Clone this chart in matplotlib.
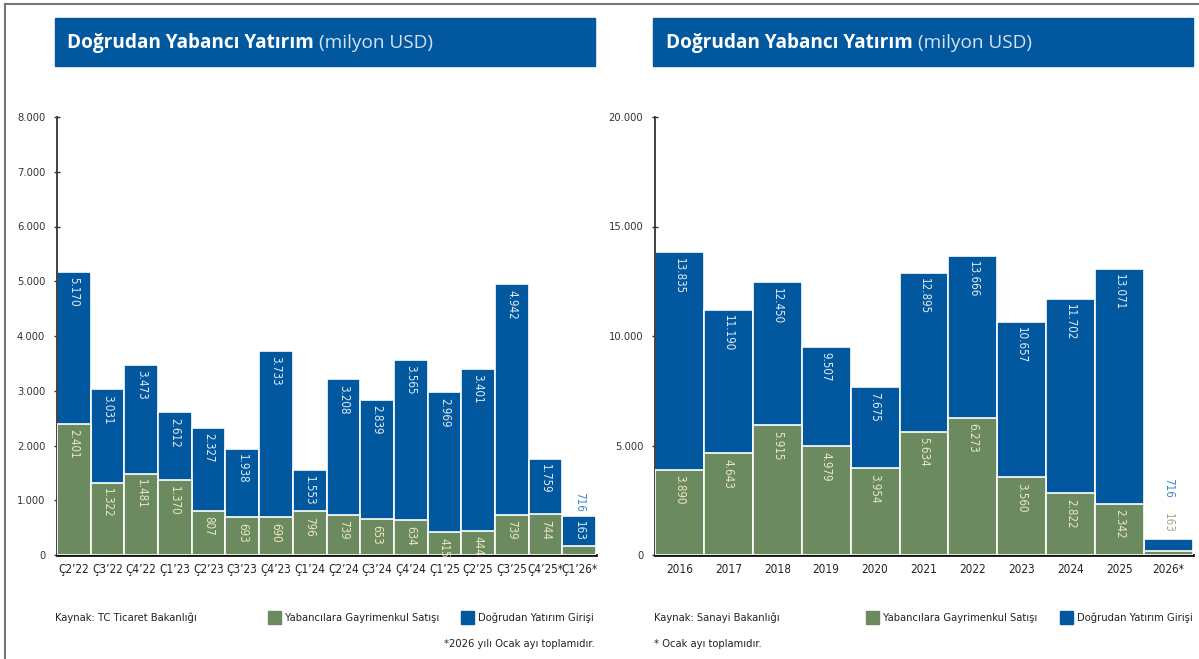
import matplotlib
matplotlib.use("Agg")
import matplotlib.pyplot as plt
from matplotlib.patches import Rectangle
from matplotlib.lines import Line2D

# quarterly data (left panel)
quarters = ["Ç2’22", "Ç3’22", "Ç4’22", "Ç1’23", "Ç2’23", "Ç3’23", "Ç4’23", "Ç1’24",
            "Ç2’24", "Ç3’24", "Ç4’24", "Ç1’25", "Ç2’25", "Ç3’25", "Ç4’25*", "Ç1’26*"]
fdi_q = [5170, 3031, 3473, 2612, 2327, 1938, 3733, 1553,
         3208, 2839, 3565, 2969, 3401, 4942, 1759, 716]
realestate_q = [2401, 1322, 1481, 1370, 807, 693, 690, 796,
                739, 653, 634, 415, 444, 739, 744, 163]

# yearly data (right panel)
years = ["2016", "2017", "2018", "2019", "2020", "2021", "2022",
         "2023", "2024", "2025", "2026*"]
fdi_y = [13835, 11190, 12450, 9507, 7675, 12895, 13666, 10657, 11702, 13071, 716]
realestate_y = [3890, 4643, 5915, 4979, 3954, 5634, 6273, 3560, 2822, 2342, 163]

BLUE = "#01589F"
GREEN = "#6C8A5F"
BLUE_TXT = "#E2ECF7"
GREEN_TXT = "#ECE8BE"
LIGHT_BLUE = "#3F86CC"
W, H = 1199, 659

small = dict(family=["DejaVu Sans"], fontstretch="condensed")
title_font = ["Open Sans", "DejaVu Sans"]


def fmt(v):
    return f"{v:,}".replace(",", ".")


def label(ax, text, xy, dy, va, color):
    ax.annotate(text, xy, xytext=(0, dy), textcoords="offset points",
                rotation=270, ha="center", va=va, fontsize=8.3,
                color=color, zorder=5, **small)


def draw_panel(ax, cats, fdi, re, ymax, ystep, last_mode):
    x = list(range(len(cats)))
    ax.bar(x, fdi, width=1.0, color=BLUE, edgecolor="white", linewidth=1.2, zorder=2)
    ax.bar(x, re, width=1.0, color=GREEN, edgecolor="white", linewidth=1.2, zorder=3)
    n = len(cats)
    for i in range(n):
        if i == n - 1:
            if last_mode == "left":
                label(ax, fmt(fdi[i]), (i, fdi[i]), 3, "bottom", LIGHT_BLUE)
                label(ax, fmt(re[i]), (i, fdi[i]), -4, "top", BLUE_TXT)
            else:
                label(ax, fmt(re[i]), (i, fdi[i]), 5, "bottom", "#9DB07E")
                label(ax, fmt(fdi[i]), (i, fdi[i]), 30, "bottom", LIGHT_BLUE)
            continue
        label(ax, fmt(fdi[i]), (i, fdi[i]), -4, "top", BLUE_TXT)
        label(ax, fmt(re[i]), (i, re[i]), -4, "top", GREEN_TXT)

    ax.set_xlim(-0.5, n - 0.5)
    ax.set_ylim(0, ymax)
    ticks = list(range(0, ymax + 1, ystep))
    ax.set_yticks(ticks)
    ax.set_yticklabels([fmt(t) for t in ticks], fontsize=8, color="#333333", **small)
    ax.set_xticks(x)
    ax.set_xticklabels(cats, fontsize=8.5, color="#222222", **small)
    ax.set_xticks([i + 0.5 for i in range(n - 1)], minor=True)
    ax.tick_params(axis="x", which="major", length=0, pad=6)
    ax.tick_params(axis="x", which="minor", direction="in", length=4, width=1.2, color="#222222")
    ax.tick_params(axis="y", direction="inout", length=5, width=1, color="#333333", pad=6)
    for s in ["top", "right"]:
        ax.spines[s].set_visible(False)
    ax.spines["left"].set_color("#333333")
    ax.spines["left"].set_linewidth(1.3)
    ax.spines["bottom"].set_color("#111111")
    ax.spines["bottom"].set_linewidth(2)
    ax.patch.set_alpha(0)


fig = plt.figure(figsize=(W / 100, H / 100), dpi=100)

ax1 = fig.add_axes([57 / W, 1 - 555 / H, (596 - 57) / W, (555 - 117) / H])
ax2 = fig.add_axes([655 / W, 1 - 555 / H, (1193 - 655) / W, (555 - 117) / H])
draw_panel(ax1, quarters, fdi_q, realestate_q, 8000, 1000, "left")
draw_panel(ax2, years, fdi_y, realestate_y, 20000, 5000, "right")

# frame lines
fig.add_artist(Line2D([5 / W, 5 / W], [0, 1 - 4 / H], color="#777777", lw=1.5))
fig.add_artist(Line2D([5 / W, 1], [1 - 4 / H, 1 - 4 / H], color="#777777", lw=1.5))

# header bands with titles
fig.canvas.draw()
renderer = fig.canvas.get_renderer()
for x0, x1, tx in [(55, 595, 67), (653, 1193, 666)]:
    fig.add_artist(Rectangle((x0 / W, 1 - 66 / H), (x1 - x0) / W, 48 / H,
                             transform=fig.transFigure, color=BLUE, zorder=0))
    t1 = fig.text(tx / W, 1 - 43 / H, "Doğrudan Yabancı Yatırım", color="white",
                  fontsize=13.7, fontweight="bold", family=title_font, va="center")
    ext = t1.get_window_extent(renderer)
    fig.text((ext.x1 + 5) / W, 1 - 43 / H, "(milyon USD)", color="#D6E2F0",
             fontsize=13.7, family=title_font, va="center")

# footers
foot = dict(fontsize=8, color="#222222", va="center", **small)
legend_pos = [
    (55, "Kaynak: TC Ticaret Bakanlığı", 268, 461, "*2026 yılı Ocak ayı toplamıdır.", 595, "right"),
    (654, "Kaynak: Sanayi Bakanlığı", 866, 1060, "* Ocak ayı toplamıdır.", 654, "left"),
]
for kx, src, gx, bx, note, nx, nha in legend_pos:
    fig.text(kx / W, 1 - 618 / H, src, **foot)
    fig.add_artist(Rectangle((gx / W, 1 - 624 / H), 13 / W, 13 / H,
                             transform=fig.transFigure, color=GREEN))
    fig.text((gx + 17) / W, 1 - 618 / H, "Yabancılara Gayrimenkul Satışı", **foot)
    fig.add_artist(Rectangle((bx / W, 1 - 624 / H), 13 / W, 13 / H,
                             transform=fig.transFigure, color=BLUE))
    fig.text((bx + 17) / W, 1 - 618 / H, "Doğrudan Yatırım Girişi", **foot)
    fig.text(nx / W, 1 - 644 / H, note, ha=nha, **foot)

fig.savefig("out.png", dpi=100)
